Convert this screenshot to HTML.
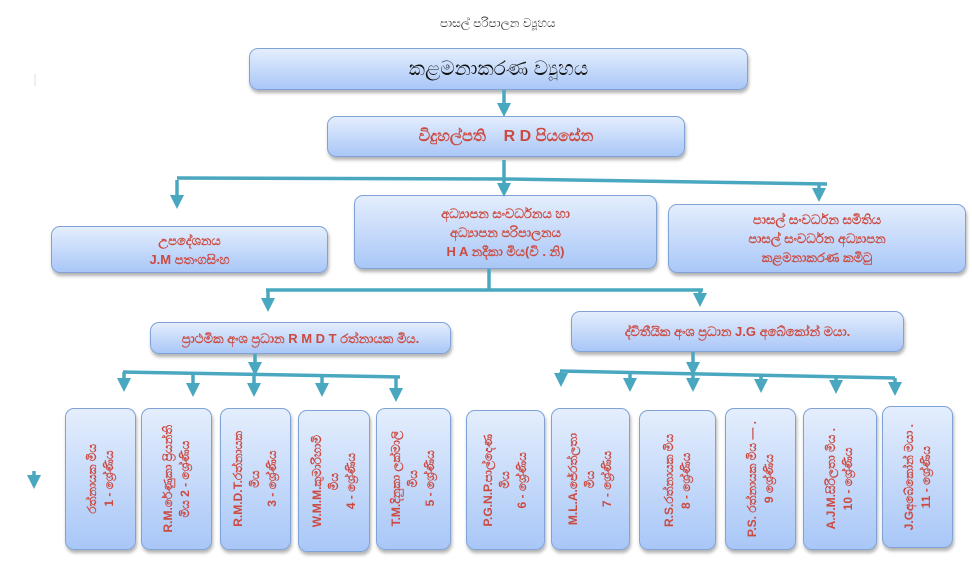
<!DOCTYPE html>
<html><head><meta charset="utf-8">
<style>
*{margin:0;padding:0;box-sizing:border-box}
body{width:972px;height:581px;background:#fff;position:relative;overflow:hidden;font-family:"Liberation Sans","Noto Sans CJK SC",sans-serif}
.b{position:absolute;border:1.5px solid #7fa3d6;border-radius:9px;background:linear-gradient(#e4eefd,#a9c7f7);box-shadow:1px 3px 3px rgba(0,0,0,.3);display:flex;align-items:center;justify-content:center;text-align:center;color:#cc4a40;font-weight:bold;font-size:13px;line-height:19px}
.v{writing-mode:vertical-rl;transform:rotate(180deg);font-size:12px;line-height:17px}
svg{position:absolute;left:0;top:0}
</style></head><body>
<div style="position:absolute;left:440px;top:16px;font-size:12px;color:#333">පාසල් පරිපාලන ව්‍යූහය</div>
<div class="b" style="left:249px;top:48px;width:499px;height:42px;color:#111;font-size:20px;font-weight:normal">කළමනාකරණ ව්‍යූහය</div>
<div class="b" style="left:327px;top:116px;width:358px;height:41px;font-size:16px">විදුහල්පති &nbsp;&nbsp; R D පියසේන</div>
<div class="b" style="left:51px;top:226px;width:277px;height:47px">උපදේශනය<br>J.M පතංගසිංහ</div>
<div class="b" style="left:354px;top:195px;width:303px;height:74px">අධ්‍යාපන සංවර්ධනය හා<br>අධ්‍යාපන පරිපාලනය<br>H A නදීකා මිය(වි . නි)</div>
<div class="b" style="left:668px;top:204px;width:298px;height:69px">පාසල් සංවර්ධන සමිතිය<br>පාසල් සංවර්ධන අධ්‍යාපන<br>කළමනාකරණ කමිටු</div>
<div class="b" style="left:150px;top:322px;width:301px;height:32px">ප්‍රාථමික අංශ ප්‍රධාන R M D T රත්නායක මිය.</div>
<div class="b" style="left:571px;top:311px;width:333px;height:41px">ද්විතීයික අංශ ප්‍රධාන J.G අබේකෝන් මයා.</div>

<div class="b" style="left:65px;top:408px;width:71px;height:142px"><div class="v">රත්නායක මිය<br>1 - ශ්‍රේණිය</div></div>
<div class="b" style="left:141px;top:408px;width:71px;height:142px"><div class="v">R.M.රේණුකා ප්‍රියන්ති<br>මිය 2 - ශ්‍රේණිය</div></div>
<div class="b" style="left:220px;top:408px;width:71px;height:142px"><div class="v">R.M.D.T.රත්නායක<br>මිය<br>3 - ශ්‍රේණිය</div></div>
<div class="b" style="left:298px;top:410px;width:72px;height:142px"><div class="v">W.M.M.කුමාරිහාමි<br>මිය<br>4 - ශ්‍රේණිය</div></div>
<div class="b" style="left:376px;top:408px;width:75px;height:142px"><div class="v">T.M.දිනුකා ලක්මාලි<br>මිය<br>5 - ශ්‍රේණිය</div></div>
<div class="b" style="left:466px;top:410px;width:79px;height:140px"><div class="v">P.G.N.P.පාල්දෙණ<br>මිය<br>6 - ශ්‍රේණිය</div></div>
<div class="b" style="left:551px;top:408px;width:79px;height:142px"><div class="v">M.L.A.ජේරත්ලතා<br>මිය<br>7 - ශ්‍රේණිය</div></div>
<div class="b" style="left:639px;top:410px;width:77px;height:140px"><div class="v">R.S.රත්නායක මිය<br>8 - ශ්‍රේණිය</div></div>
<div class="b" style="left:725px;top:408px;width:71px;height:142px"><div class="v">P.S. රත්නායක මිය — .<br>9 ශ්‍රේණිය</div></div>
<div class="b" style="left:803px;top:408px;width:74px;height:142px"><div class="v">A.J.M.සිරිලතා මිය .<br>10 - ශ්‍රේණිය</div></div>
<div class="b" style="left:882px;top:406px;width:71px;height:142px"><div class="v">J.Gඅබේකෝන් මයා .<br>11 - ශ්‍රේණිය</div></div>

<svg width="972" height="581" fill="none" stroke="#4aa7c0" stroke-width="4">
<defs><marker id="a" markerWidth="4" markerHeight="4" refX="2" refY="2" orient="auto" markerUnits="strokeWidth"><path d="M0,0 L4,2 L0,4 Z" fill="#4aa7c0" stroke="none"/></marker></defs>
<g stroke-width="3.5">
<line x1="504" y1="90" x2="504" y2="110" marker-end="url(#a)"/>
<line x1="504" y1="160" x2="504" y2="190" marker-end="url(#a)"/>
<path d="M177 178 L504 179 L827 184"/>
<line x1="177" y1="180" x2="177" y2="202" marker-end="url(#a)"/>
<line x1="819" y1="184" x2="819" y2="195" marker-end="url(#a)"/>
<line x1="489" y1="269" x2="489" y2="290"/>
<path d="M266 290 L703 290"/>
<line x1="268" y1="290" x2="268" y2="305" marker-end="url(#a)"/>
<line x1="700" y1="290" x2="700" y2="300" marker-end="url(#a)"/>
<line x1="255" y1="354" x2="255" y2="369" marker-end="url(#a)"/>
<path d="M123 372 L400 377"/>
<line x1="124" y1="372" x2="124" y2="385" marker-end="url(#a)"/>
<line x1="193" y1="374" x2="193" y2="390" marker-end="url(#a)"/>
<line x1="254" y1="374" x2="254" y2="390" marker-end="url(#a)"/>
<line x1="322" y1="375" x2="322" y2="390" marker-end="url(#a)"/>
<line x1="396" y1="376" x2="396" y2="395" marker-end="url(#a)"/>
<line x1="693" y1="352" x2="693" y2="369" marker-end="url(#a)"/>
<path d="M560 371 L895 378"/>
<line x1="561" y1="372" x2="561" y2="380" marker-end="url(#a)"/>
<line x1="630" y1="374" x2="630" y2="385" marker-end="url(#a)"/>
<line x1="693" y1="375" x2="693" y2="385" marker-end="url(#a)"/>
<line x1="761" y1="376" x2="761" y2="386" marker-end="url(#a)"/>
<line x1="836" y1="377" x2="836" y2="387" marker-end="url(#a)"/>
<line x1="895" y1="378" x2="895" y2="389" marker-end="url(#a)"/>
<line x1="34" y1="471" x2="34" y2="482" marker-end="url(#a)"/>
</g>
<line x1="35" y1="74" x2="35" y2="86" stroke="#ddd" stroke-width="1"/>
</svg>
</body></html>
